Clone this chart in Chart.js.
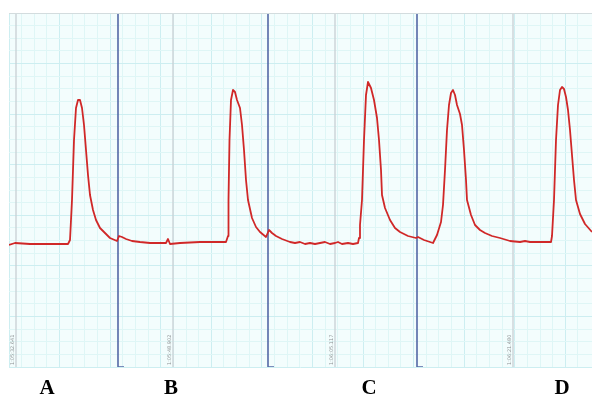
<!DOCTYPE html>
<html>
<head>
<meta charset="utf-8">
<script src="https://cdn.jsdelivr.net/npm/chart.js@4.4.1/dist/chart.umd.min.js"></script>
<style>
html,body{margin:0;padding:0;background:#fff;}
#c{display:block;}
</style>
</head>
<body>
<canvas id="c" width="592" height="398"></canvas>
<script>
// Trace: sample index (t) and signal level (v)
const traceT = [0,6,21,41,59,61,63,65,67,69,71,73,75,77,79,81,84,87,91,96,101,108,
  110,113,117,123,131,141,151,157,159,161,171,191,206,217,
  219,219.5,220.5,222,224,226,228,231,233,235,237,239,243,247,251,257,
  260,263,267,273,281,286,291,296,301,306,311,316,321,326,329,333,339,344,349,
  350,351,353,355,357,359,362,365,367,368,370,372,373,376,381,386,391,399,407,
  409,415,421,424,428,432,434,436,438,440,442,444,446,448,451,453,455,457,458,462,466,471,476,483,491,501,511,516,521,531,542,
  543,545,547,549,551,553,555,557,559,561,563,565,567,571,576,583];
const traceV = [122,124,123,123,123,127,167,227,259,267,267,259,242,217,192,172,157,147,139,134,129,126,
  131,130,128,126,125,124,124,124,128,123,124,125,125,125,
  131,167,227,267,277,275,267,259,242,217,187,167,149,140,135,130,
  137,134,131,128,125,124,125,123,124,123,124,125,123,124,125,123,124,123,124,
  129,142,167,227,272,285,279,267,255,249,227,197,172,159,147,139,135,131,129,
  130,127,125,124,132,145,162,197,237,262,274,277,272,262,253,242,217,187,167,152,142,137,134,131,129,126,125,126,125,125,125,
  131,167,227,262,277,280,278,270,257,237,212,187,167,153,143,135];
// Recording segment boundaries (blue) and event markers (grey)
const segmentT = [109, 259, 408];
const eventT = [7, 164, 326, 504];
const eventLabels = ["1:05:32.641", "1:05:48.902", "1:06:05.117", "1:06:21.480"];
// Panel letters
const panelT = [38, 162, 360, 553];
const panelLabels = ["A", "B", "C", "D"];

const X_MAX = 583, Y_MAX = 354;
const GRID_STEP = Y_MAX / 28;

const tracePts = traceT.map((t, i) => ({x: t, y: traceV[i]}));
const vLines = [];
segmentT.forEach(t => {
  vLines.push({
    data: [{x: t, y: Y_MAX}, {x: t, y: 0}, {x: t + 6, y: 0}],
    borderColor: '#5468a6', borderWidth: 1.6, showLine: true, pointRadius: 0, order: 1
  });
});
eventT.forEach(t => {
  vLines.push({
    data: [{x: t, y: Y_MAX}, {x: t, y: 0}],
    borderColor: '#c8d0d4', borderWidth: 1.3, showLine: true, pointRadius: 0, order: 3
  });
});

const bgPlugin = {
  id: 'bg',
  beforeDraw(chart) {
    const {ctx, chartArea: a} = chart;
    ctx.save();
    ctx.fillStyle = '#f3fdfd';
    ctx.fillRect(a.left, a.top, a.right - a.left, a.bottom - a.top);
    ctx.restore();
  },
  afterDraw(chart) {
    const {ctx, chartArea: a, scales} = chart;
    ctx.save();
    ctx.strokeStyle = '#d3dcde';
    ctx.lineWidth = 1;
    ctx.beginPath();
    ctx.moveTo(a.left, a.top + 0.5); ctx.lineTo(a.right, a.top + 0.5);
    ctx.stroke();
    // event labels
    ctx.fillStyle = '#8e9294';
    ctx.font = '5px "DejaVu Sans"';
    ctx.textAlign = 'left';
    ctx.textBaseline = 'bottom';
    eventT.forEach((t, i) => {
      const px = scales.x.getPixelForValue(t);
      ctx.save();
      ctx.translate(px - 1, a.bottom - 2);
      ctx.rotate(-Math.PI / 2);
      ctx.fillText(eventLabels[i], 0, 0);
      ctx.restore();
    });
    // panel letters
    ctx.fillStyle = '#000';
    ctx.font = 'bold 21px "Liberation Serif"';
    ctx.textAlign = 'center';
    ctx.textBaseline = 'alphabetic';
    panelT.forEach((t, i) => {
      ctx.fillText(panelLabels[i], scales.x.getPixelForValue(t), 394);
    });
    ctx.restore();
  }
};

const gridColor = (ctx) => {
  const i = ctx.index;
  return (i % 4 === 0) ? '#cdeef1' : '#dff6f6';
};

new Chart(document.getElementById('c'), {
  type: 'scatter',
  data: {
    datasets: [
      {
        data: tracePts,
        showLine: true,
        pointRadius: 0,
        borderColor: '#d02828',
        borderWidth: 1.8,
        borderJoinStyle: 'round',
        tension: 0,
        order: 0
      },
      ...vLines
    ]
  },
  options: {
    responsive: false,
    animation: false,
    events: [],
    layout: {padding: {left: 9, top: 13, right: 0, bottom: 31}},
    plugins: {legend: {display: false}, tooltip: {enabled: false}},
    scales: {
      x: {
        type: 'linear', min: 0, max: X_MAX,
        ticks: {display: false, stepSize: GRID_STEP},
        grid: {color: gridColor, lineWidth: 1, drawTicks: false},
        border: {display: false}
      },
      y: {
        type: 'linear', min: 0, max: Y_MAX,
        ticks: {display: false, stepSize: GRID_STEP},
        grid: {color: gridColor, lineWidth: 1, drawTicks: false},
        border: {display: false}
      }
    }
  },
  plugins: [bgPlugin]
});
</script>
</body>
</html>
